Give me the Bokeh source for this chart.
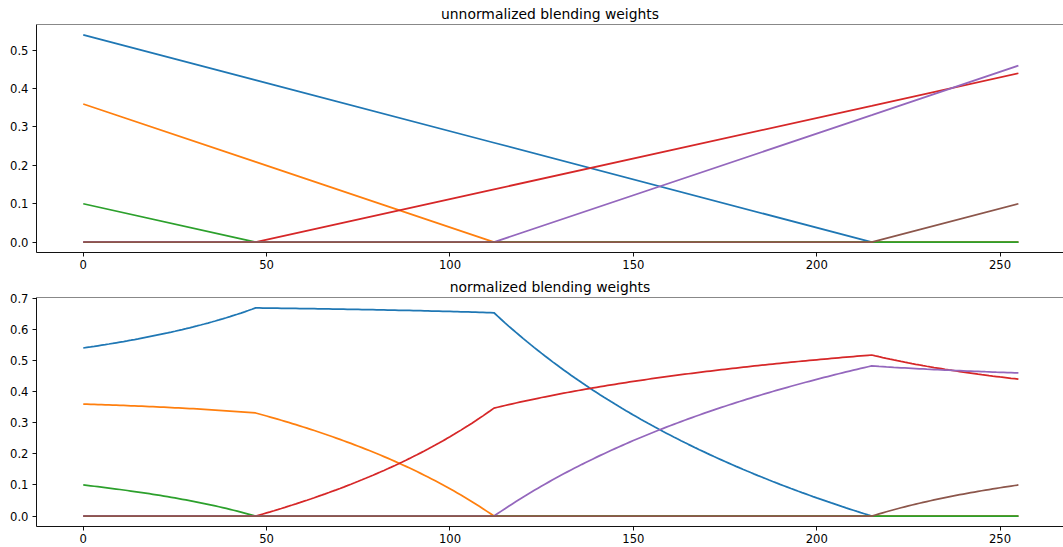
import numpy as np
from bokeh.plotting import figure
from bokeh.layouts import column
from bokeh.models import Range1d, FixedTicker, PrintfTickFormatter, Span
from bokeh.embed import file_html
from bokeh.resources import INLINE

# Break points of the piecewise-linear blending weights (input level 0..255)
knots = [0, 47, 112, 215, 255]

# Unnormalized weight of each component at the break points
w_blue = [0.54, 0.422, 0.259, 0.0, 0.0]
w_orange = [0.36, 0.209, 0.0, 0.0, 0.0]
w_green = [0.10, 0.0, 0.0, 0.0, 0.0]
w_red = [0.0, 0.0, 0.1375, 0.355, 0.44]
w_purple = [0.0, 0.0, 0.0, 0.331, 0.46]
w_brown = [0.0, 0.0, 0.0, 0.0, 0.10]

series = [w_blue, w_orange, w_green, w_red, w_purple, w_brown]
colors = ["#1f77b4", "#ff7f0e", "#2ca02c", "#d62728", "#9467bd", "#8c564b"]

x_ticks = [0, 50, 100, 150, 200, 250]
top_y_ticks = [0.0, 0.1, 0.2, 0.3, 0.4, 0.5]
bottom_y_ticks = [0.0, 0.1, 0.2, 0.3, 0.4, 0.5, 0.6, 0.7]

# Evaluate every weight at each input level, then divide by the per-level sum
levels = np.arange(256)
weights = np.array([np.interp(levels, knots, w) for w in series])
normalized = weights / weights.sum(axis=0)

FONT = "DejaVu Sans"
LINE_W = 1.75
SPINE_W = 0.93


def make_panel(title, xs, ys_list, height, border_top, border_bottom, yticks):
    lo = min(min(v) for v in ys_list)
    hi = max(max(v) for v in ys_list)
    pad = 0.05 * (hi - lo)
    p = figure(
        width=1063, height=height, title=title,
        output_backend="svg", toolbar_location=None,
        x_range=Range1d(-12.75, 267.3), y_range=Range1d(lo - pad, hi + pad),
        min_border_left=36, min_border_right=0,
        min_border_top=border_top, min_border_bottom=border_bottom,
    )
    p.title.text_font = FONT
    p.title.text_font_size = "13.9px"
    p.title.text_font_style = "normal"
    p.title.text_color = "black"
    p.title.align = "center"
    p.title.standoff = 6

    p.outline_line_color = None
    p.xgrid.visible = False
    p.ygrid.visible = False

    p.xaxis.ticker = FixedTicker(ticks=x_ticks)
    p.yaxis.ticker = FixedTicker(ticks=yticks)
    p.yaxis.formatter = PrintfTickFormatter(format="%.1f")
    for ax in (p.xaxis, p.yaxis):
        ax.axis_line_color = "black"
        ax.axis_line_width = SPINE_W
        ax.major_tick_line_color = "black"
        ax.major_tick_line_width = SPINE_W
        ax.major_tick_out = 4
        ax.major_tick_in = 0
        ax.minor_tick_line_color = None
        ax.major_label_text_font = FONT
        ax.major_label_text_font_size = "11.6px"
        ax.major_label_text_color = "black"
    p.xaxis.major_label_standoff = 3
    p.yaxis.major_label_standoff = 4

    # top spine
    p.add_layout(Span(location=hi + pad, dimension="width",
                      line_color="black", line_width=SPINE_W))

    for ys, c in zip(ys_list, colors):
        p.line(xs, ys, line_color=c, line_width=LINE_W)
    return p


p_top = make_panel("unnormalized blending weights", knots, series,
                   272, 24, 20, top_y_ticks)
p_bottom = make_panel("normalized blending weights", levels,
                      [list(r) for r in normalized],
                      275, 25, 21, bottom_y_ticks)

layout = column(p_top, p_bottom, spacing=0)
open("out.html", "w").write(file_html(layout, INLINE))
